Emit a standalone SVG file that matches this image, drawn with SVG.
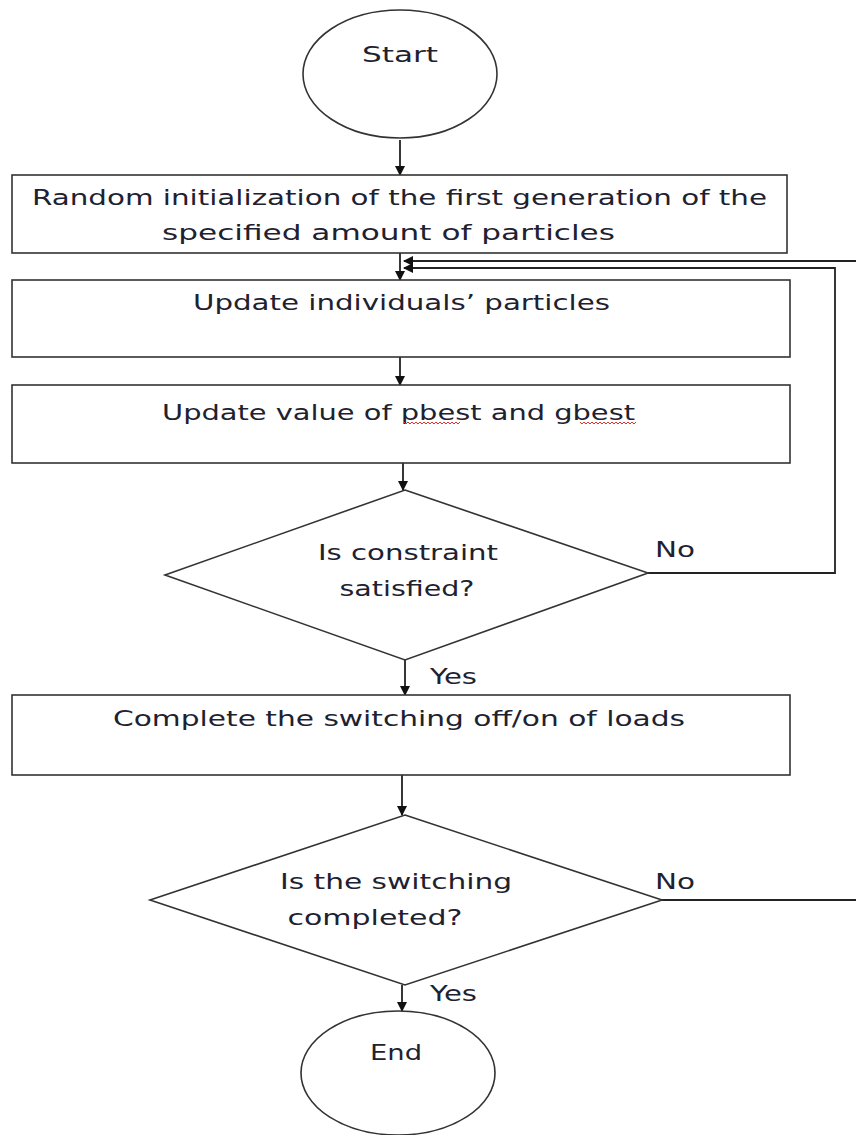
<svg xmlns="http://www.w3.org/2000/svg" width="856" height="1135" viewBox="0 0 856 1135">
<style>
.s{fill:#fff;stroke:#333;stroke-width:1.6}
.c{fill:none;stroke:#222;stroke-width:1.8}
.t{font-family:"DejaVu Sans","Open Sans",sans-serif;font-size:22px;fill:#1e2230}
.sq{fill:none;stroke:#e03030;stroke-width:1}
</style>
<defs>
<marker id="a" viewBox="0 0 10 10" refX="9" refY="5" markerWidth="10" markerHeight="10" markerUnits="userSpaceOnUse" orient="auto">
<path d="M0,0 L10,5 L0,10 z" fill="#111"/>
</marker>
</defs>
<rect width="856" height="1135" fill="#fff"/>
<g id="connectors">
<line class="c" x1="400" y1="140" x2="400" y2="175" marker-end="url(#a)"/>
<line class="c" x1="400" y1="253" x2="400" y2="280" marker-end="url(#a)"/>
<line class="c" x1="400" y1="357" x2="400" y2="385" marker-end="url(#a)"/>
<line class="c" x1="403" y1="463" x2="403" y2="490" marker-end="url(#a)"/>
<line class="c" x1="405" y1="660" x2="405" y2="695" marker-end="url(#a)"/>
<line class="c" x1="402" y1="775" x2="402" y2="815" marker-end="url(#a)"/>
<line class="c" x1="402" y1="985" x2="402" y2="1011" marker-end="url(#a)"/>
<polyline class="c" points="648,573 835,573 835,268 404,268" marker-end="url(#a)"/>
<polyline class="c" points="662,900 856,900"/>
<polyline class="c" points="856,261 404,261" marker-end="url(#a)"/>
</g>
<g id="start"><ellipse class="s" cx="400" cy="74" rx="97" ry="64"/><text class="t" x="400" y="62" text-anchor="middle" textLength="76" lengthAdjust="spacingAndGlyphs">Start</text></g>
<g id="init"><rect class="s" x="12" y="175" width="775" height="78"/>
<text class="t" x="32" y="205" textLength="735" lengthAdjust="spacingAndGlyphs">Random initialization of the first generation of the</text>
<text class="t" x="162" y="240" textLength="453" lengthAdjust="spacingAndGlyphs">specified amount of particles</text></g>
<g id="update1"><rect class="s" x="12" y="280" width="778" height="77"/>
<text class="t" x="193" y="310" textLength="417" lengthAdjust="spacingAndGlyphs">Update individuals’ particles</text></g>
<g id="update2"><rect class="s" x="12" y="385" width="778" height="78"/>
<text class="t" x="162" y="420" textLength="473" lengthAdjust="spacingAndGlyphs">Update value of pbest and gbest</text>
<path class="sq" d="M404,422 l2,2 2,-2 2,2 2,-2 2,2 2,-2 2,2 2,-2 2,2 2,-2 2,2 2,-2 2,2 2,-2 2,2 2,-2 2,2 2,-2 2,2 2,-2 2,2 2,-2 2,2 2,-2 2,2 2,-2 2,2 2,-2"/>
<path class="sq" d="M580,422 l2,2 2,-2 2,2 2,-2 2,2 2,-2 2,2 2,-2 2,2 2,-2 2,2 2,-2 2,2 2,-2 2,2 2,-2 2,2 2,-2 2,2 2,-2 2,2 2,-2 2,2 2,-2 2,2 2,-2 2,2 2,-2"/></g>
<g id="decision1"><polygon class="s" points="405,490 648,573 405,660 165,575"/>
<text class="t" x="408" y="560" text-anchor="middle" textLength="180" lengthAdjust="spacingAndGlyphs">Is constraint</text>
<text class="t" x="407" y="596" text-anchor="middle" textLength="135" lengthAdjust="spacingAndGlyphs">satisfied?</text>
<text class="t" x="655" y="557" textLength="40" lengthAdjust="spacingAndGlyphs">No</text>
<text class="t" x="430" y="684" textLength="47" lengthAdjust="spacingAndGlyphs">Yes</text></g>
<g id="complete"><rect class="s" x="12" y="695" width="778" height="80"/>
<text class="t" x="113" y="726" textLength="572" lengthAdjust="spacingAndGlyphs">Complete the switching off/on of loads</text></g>
<g id="decision2"><polygon class="s" points="405,815 662,900 405,985 150,900"/>
<text class="t" x="396" y="889" text-anchor="middle" textLength="232" lengthAdjust="spacingAndGlyphs">Is the switching</text>
<text class="t" x="375" y="925" text-anchor="middle" textLength="175" lengthAdjust="spacingAndGlyphs">completed?</text>
<text class="t" x="655" y="889" textLength="40" lengthAdjust="spacingAndGlyphs">No</text>
<text class="t" x="430" y="1001" textLength="47" lengthAdjust="spacingAndGlyphs">Yes</text></g>
<g id="end"><ellipse class="s" cx="398" cy="1073" rx="97" ry="62"/>
<text class="t" x="396" y="1060" text-anchor="middle" textLength="52" lengthAdjust="spacingAndGlyphs">End</text></g>
</svg>
